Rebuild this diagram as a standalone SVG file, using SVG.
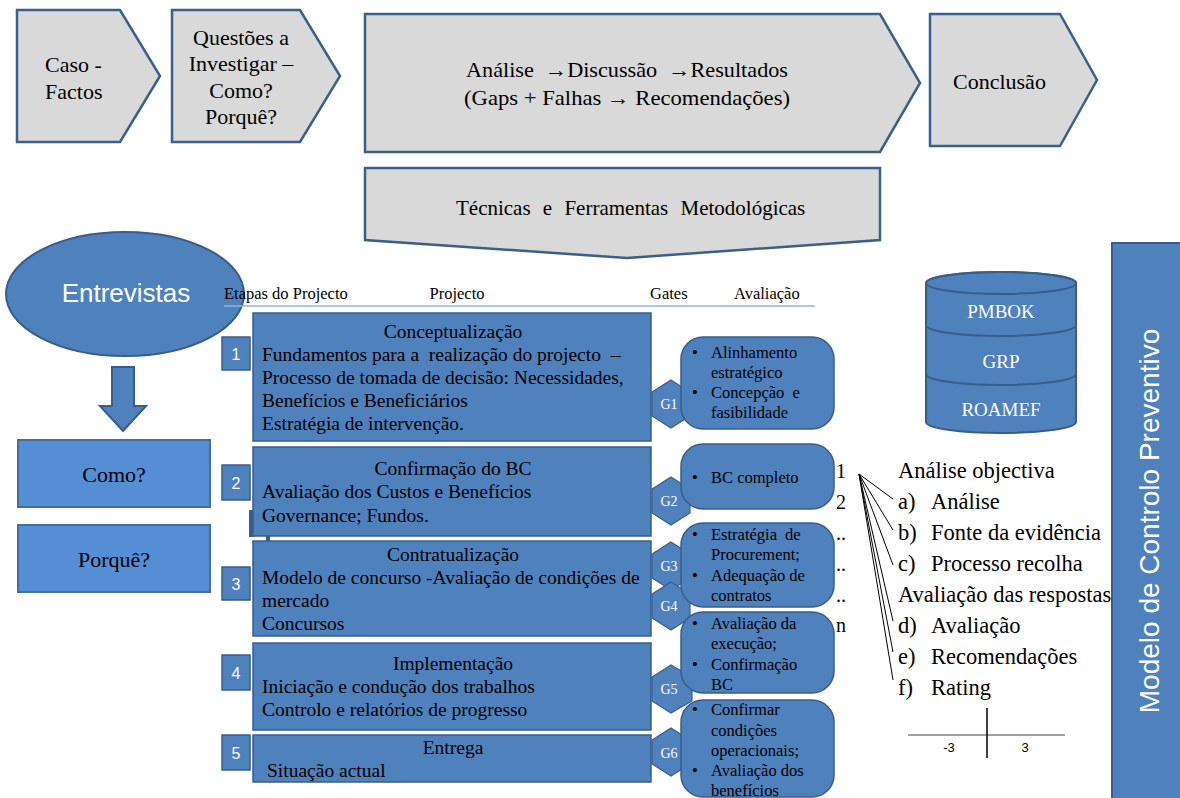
<svg xmlns="http://www.w3.org/2000/svg" width="1180" height="798" viewBox="0 0 1180 798">
  <style>
    .chev { fill: #d9d9d9; stroke: #3a5f8b; stroke-width: 2.5; }
    .serif { font-family: "Liberation Serif", "Times New Roman", serif; fill: #000; }
    .sans { font-family: "Liberation Sans", Arial, sans-serif; }
    .big { font-size: 22px; }
    .stage { fill: #4f81bd; stroke: #385d8a; stroke-width: 1.5; }
    .num { fill: #4f81bd; stroke: #385d8a; stroke-width: 1.5; }
    .numtxt { font-family: "Liberation Sans", Arial, sans-serif; font-size: 16px; fill: #fff; text-anchor: middle; }
    .gate { fill: #4f81bd; stroke: #385d8a; stroke-width: 1.2; }
    .gatetxt { font-family: "Liberation Serif", serif; font-size: 14px; fill: #fff; text-anchor: middle; }
    .eval { fill: #4f81bd; stroke: #385d8a; stroke-width: 1.5; }
    .evtxt { font-family: "Liberation Serif", serif; font-size: 16.5px; fill: #000; }
    .st { font-size: 19.5px; }
    .hdr { font-size: 16.5px; }
    .lst { font-size: 22.5px; }
    .q { fill: #558ed5; stroke: #41719c; stroke-width: 2; }
    .fan { stroke: #000; stroke-width: 1; fill: none; }
    .cyl { fill: #4f81bd; stroke: #385d8a; stroke-width: 2; }
    .arr { font-weight: bold; }
  </style>

  <!-- process chevrons -->
  <g id="caso">
    <polygon class="chev" points="17,10 120,10 160,76 120,142 17,142"/>
    <text class="serif big" x="45" y="72">Caso -</text>
    <text class="serif big" x="45" y="99">Factos</text>
  </g>
  <g id="questoes">
    <polygon class="chev" points="172,10 300,10 340,76 300,142 172,142"/>
    <g class="serif big" text-anchor="middle">
      <text x="241" y="45">Questões a</text>
      <text x="241" y="71">Investigar –</text>
      <text x="241" y="98">Como?</text>
      <text x="241" y="124">Porquê?</text>
    </g>
  </g>
  <g id="analise">
    <polygon class="chev" points="365,14 880,14 920,83 880,152 365,152"/>
    <g class="serif big">
      <text x="466" y="77" textLength="322" lengthAdjust="spacingAndGlyphs" xml:space="preserve">Análise  <tspan class="arr">→</tspan>Discussão  <tspan class="arr">→</tspan>Resultados</text>
      <text x="464" y="105" textLength="326" lengthAdjust="spacingAndGlyphs">(Gaps + Falhas <tspan class="arr">→</tspan> Recomendações)</text>
    </g>
  </g>
  <g id="conclusao">
    <polygon class="chev" points="930,14 1060,14 1097,80 1060,146 930,146"/>
    <text class="serif big" x="953" y="89">Conclusão</text>
  </g>
  <g id="tecnicas">
    <polygon class="chev" points="365,168 880,168 880,240 627,258 365,240"/>
    <text class="serif" font-size="21" x="456" y="215" word-spacing="7">Técnicas e Ferramentas Metodológicas</text>
  </g>

  <!-- interviews and questions -->
  <g id="entrevistas">
    <ellipse cx="125" cy="294" rx="119" ry="62" fill="#4f81bd" stroke="#385d8a" stroke-width="2"/>
    <text class="sans" font-size="26" fill="#fff" text-anchor="middle" x="126" y="302">Entrevistas</text>
  </g>
  <g id="seta">
    <polygon points="112,367 134,367 134,406 146,406 123,431 100,406 112,406" fill="#4f81bd" stroke="#385d8a" stroke-width="2"/>
  </g>
  <g id="como">
    <rect class="q" x="18" y="440" width="192" height="67"/>
    <text class="serif big" text-anchor="middle" x="114" y="482">Como?</text>
  </g>
  <g id="porque">
    <rect class="q" x="18" y="525" width="192" height="67"/>
    <text class="serif big" text-anchor="middle" x="114" y="567">Porquê?</text>
  </g>

  <!-- table header -->
  <g id="cabecalho" class="serif hdr">
    <text x="224" y="299">Etapas do Projecto</text>
    <text x="457" y="299" text-anchor="middle">Projecto</text>
    <text x="650" y="299">Gates</text>
    <text x="734" y="299">Avaliação</text>
    <line x1="224" y1="306" x2="815" y2="306" stroke="#8eb4e3" stroke-width="1.5"/>
  </g>

  <!-- project stages -->
  <g id="etapa1">
    <rect class="stage" x="253" y="313" width="398" height="128"/>
    <rect class="num" x="222" y="337" width="28" height="33"/>
    <text class="numtxt" x="236" y="360">1</text>
    <g class="serif st">
      <text x="453" y="338" text-anchor="middle">Conceptualização</text>
      <text x="262" y="361" xml:space="preserve">Fundamentos para a  realização do projecto  –</text>
      <text x="262" y="384">Processo de tomada de decisão: Necessidades,</text>
      <text x="262" y="407">Benefícios e Beneficiários</text>
      <text x="262" y="430">Estratégia de intervenção.</text>
    </g>
  </g>
  <g id="etapa2">
    <rect x="249" y="510" width="6" height="27" fill="#385d8a"/>
    <rect x="266" y="535" width="4" height="7" fill="#385d8a"/>
    <rect class="stage" x="253" y="447" width="398" height="89"/>
    <rect class="num" x="222" y="465" width="28" height="35"/>
    <text class="numtxt" x="236" y="489">2</text>
    <g class="serif st">
      <text x="453" y="475" text-anchor="middle">Confirmação do BC</text>
      <text x="262" y="498">Avaliação dos Custos e Benefícios</text>
      <text x="262" y="522">Governance; Fundos.</text>
    </g>
  </g>
  <g id="etapa3">
    <rect class="stage" x="253" y="541" width="398" height="95"/>
    <rect class="num" x="222" y="567" width="28" height="33"/>
    <text class="numtxt" x="236" y="590">3</text>
    <g class="serif st">
      <text x="453" y="561" text-anchor="middle">Contratualização</text>
      <text x="262" y="584">Modelo de concurso -Avaliação de condições de</text>
      <text x="262" y="607">mercado</text>
      <text x="262" y="630">Concursos</text>
    </g>
  </g>
  <g id="etapa4">
    <rect class="stage" x="253" y="643" width="398" height="87"/>
    <rect class="num" x="222" y="655" width="28" height="35"/>
    <text class="numtxt" x="236" y="679">4</text>
    <g class="serif st">
      <text x="453" y="670" text-anchor="middle">Implementação</text>
      <text x="262" y="693">Iniciação e condução dos trabalhos</text>
      <text x="262" y="716">Controlo e relatórios de progresso</text>
    </g>
  </g>
  <g id="etapa5">
    <rect class="stage" x="253" y="735" width="398" height="47"/>
    <rect class="num" x="222" y="735" width="28" height="35"/>
    <text class="numtxt" x="236" y="759">5</text>
    <g class="serif st">
      <text x="453" y="754" text-anchor="middle">Entrega</text>
      <text x="267" y="777">Situação actual</text>
    </g>
  </g>

  <!-- gates -->
  <g id="g1"><polygon class="gate" points="671,380 690,392 690,416 671,428 652,416 652,392"/><text class="gatetxt" x="669" y="409">G1</text></g>
  <g id="g2"><polygon class="gate" points="671,477 690,489 690,513 671,525 652,513 652,489"/><text class="gatetxt" x="669" y="506">G2</text></g>
  <g id="g3"><polygon class="gate" points="671,542 690,554 690,578 671,590 652,578 652,554"/><text class="gatetxt" x="669" y="571">G3</text></g>
  <g id="g4"><polygon class="gate" points="671,582 690,594 690,618 671,630 652,618 652,594"/><text class="gatetxt" x="669" y="611">G4</text></g>
  <g id="g5"><polygon class="gate" points="671,665 692,677 692,701 671,713 652,701 652,677"/><text class="gatetxt" x="669" y="694">G5</text></g>
  <g id="g6"><polygon class="gate" points="671,728 690,740 690,764 671,776 652,764 652,740"/><text class="gatetxt" x="669" y="758">G6</text></g>

  <!-- gate evaluations -->
  <g id="av1">
    <rect class="eval" x="681" y="337" width="153" height="92" rx="22"/>
    <g class="evtxt">
      <text x="692" y="358">•</text><text x="711" y="358">Alinhamento</text>
      <text x="711" y="378">estratégico</text>
      <text x="692" y="398">•</text><text x="711" y="398" word-spacing="4">Concepção e</text>
      <text x="711" y="418">fasibilidade</text>
    </g>
  </g>
  <g id="av2">
    <rect class="eval" x="681" y="444" width="153" height="65" rx="22"/>
    <g class="evtxt">
      <text x="692" y="483">•</text><text x="711" y="483">BC completo</text>
    </g>
  </g>
  <g id="av3">
    <rect class="eval" x="681" y="523" width="153" height="84" rx="22"/>
    <g class="evtxt">
      <text x="692" y="540">•</text><text x="711" y="540" word-spacing="4">Estratégia de</text>
      <text x="711" y="560">Procurement;</text>
      <text x="692" y="581">•</text><text x="711" y="581">Adequação de</text>
      <text x="711" y="601">contratos</text>
    </g>
  </g>
  <g id="av4">
    <rect class="eval" x="681" y="612" width="153" height="81" rx="22"/>
    <g class="evtxt">
      <text x="692" y="629">•</text><text x="711" y="629">Avaliação da</text>
      <text x="711" y="649">execução;</text>
      <text x="692" y="670">•</text><text x="711" y="670">Confirmação</text>
      <text x="711" y="690">BC</text>
    </g>
  </g>
  <g id="av5">
    <rect class="eval" x="681" y="700" width="153" height="97" rx="22"/>
    <g class="evtxt">
      <text x="692" y="715">•</text><text x="711" y="715">Confirmar</text>
      <text x="711" y="736">condições</text>
      <text x="711" y="756">operacionais;</text>
      <text x="692" y="776">•</text><text x="711" y="776">Avaliação dos</text>
      <text x="711" y="796">benefícios</text>
    </g>
  </g>

  <!-- question numbering -->
  <g id="numeracao" class="serif" font-size="20">
    <text x="836" y="478">1</text>
    <text x="836" y="509">2</text>
    <text x="836" y="540">..</text>
    <text x="836" y="571">..</text>
    <text x="836" y="602">..</text>
    <text x="836" y="632">n</text>
  </g>

  <!-- connectors fanning out to the analysis items -->
  <g id="conectores" class="fan">
    <line x1="859" y1="474" x2="893" y2="499"/>
    <line x1="859" y1="474" x2="893" y2="530"/>
    <line x1="859" y1="474" x2="893" y2="565"/>
    <line x1="859" y1="474" x2="893" y2="621"/>
    <line x1="859" y1="474" x2="893" y2="652"/>
    <line x1="859" y1="474" x2="893" y2="680"/>
  </g>

  <!-- analysis checklist -->
  <g id="analise-objectiva" class="serif lst">
    <text x="898" y="478">Análise objectiva</text>
    <text x="898" y="509">a)</text><text x="931" y="509">Análise</text>
    <text x="898" y="540">b)</text><text x="931" y="540">Fonte da evidência</text>
    <text x="898" y="571">c)</text><text x="931" y="571">Processo recolha</text>
    <text x="898" y="602">Avaliação das respostas</text>
    <text x="898" y="633">d)</text><text x="931" y="633">Avaliação</text>
    <text x="898" y="664">e)</text><text x="931" y="664">Recomendações</text>
    <text x="898" y="695">f)</text><text x="931" y="695">Rating</text>
  </g>

  <!-- rating scale -->
  <g id="rating">
    <line x1="908" y1="735" x2="1065" y2="735" stroke="#7f7f7f" stroke-width="1.5"/>
    <line x1="987" y1="708" x2="987" y2="758" stroke="#000" stroke-width="1.5"/>
    <text class="sans" font-size="13" x="949" y="752" text-anchor="middle">-3</text>
    <text class="sans" font-size="13" x="1025" y="752" text-anchor="middle">3</text>
  </g>

  <!-- reference frameworks stack -->
  <g id="referenciais">
    <path class="cyl" d="M926,375 A75,11 0 0 1 1076,375 L1076,422 A75,11 0 0 1 926,422 Z"/>
    <path class="cyl" d="M926,327 A75,11 0 0 1 1076,327 L1076,374 A75,11 0 0 1 926,374 Z"/>
    <path class="cyl" d="M926,283 A75,11 0 0 1 1076,283 L1076,325 A75,11 0 0 1 926,325 Z"/>
    <ellipse cx="1001" cy="283" rx="75" ry="11" fill="none" stroke="#385d8a" stroke-width="2"/>
    <g font-family="Liberation Serif, serif" font-size="19" fill="#fff" text-anchor="middle">
      <text x="1001" y="318">PMBOK</text>
      <text x="1001" y="368">GRP</text>
      <text x="1001" y="416">ROAMEF</text>
    </g>
  </g>

  <!-- preventive control model bar -->
  <g id="modelo">
    <rect x="1112" y="243" width="70" height="557" fill="#4f81bd" stroke="#385d8a" stroke-width="2"/>
    <text class="sans" font-size="28" fill="#fff" text-anchor="middle" transform="translate(1159,521) rotate(-90)">Modelo de Controlo Preventivo</text>
  </g>
</svg>
